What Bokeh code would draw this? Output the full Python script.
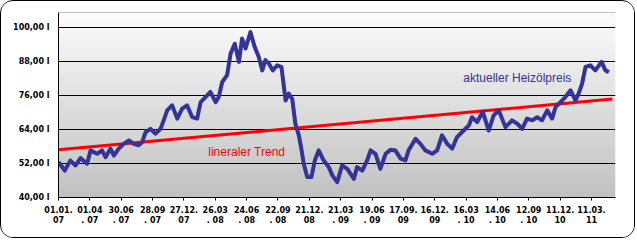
import numpy as np
from bokeh.plotting import figure
from bokeh.models import FixedTicker, Span, Label, Range1d
from bokeh.embed import file_html
from bokeh.resources import INLINE

# ---- data ----
start_date = "2007-01-01"
tick_days = [0, 90, 180, 270, 360, 450, 540, 630, 720, 810, 900, 990, 1080,
             1170, 1260, 1350, 1440, 1530]
tick_labels = ["01.01.\n07", "01.04\n. 07", "30.06\n. 07", "28.09\n. 07", "27.12.\n07",
               "26.03\n. 08", "24.06\n. 08", "22.09\n. 08", "21.12.\n08", "21.03\n. 09",
               "19.06\n. 09", "17.09.\n09", "16.12.\n09", "16.03\n. 10", "14.06\n. 10",
               "12.09\n. 10", "11.12.\n10", "11.03.\n11"]
y_ticks = [40, 52, 64, 76, 88, 100]
y_labels = ["40,00 l", "52,00 l", "64,00 l", "76,00 l", "88,00 l", "100,00 l"]

price_day = [0, 18, 34, 49, 63, 82, 92, 111, 125, 135, 149, 159, 173, 187, 202, 216, 230, 240,
             250, 264, 278, 293, 302, 312, 326, 341, 355, 369, 384, 398, 408, 422, 436, 451,
             460, 470, 484, 494, 506, 518, 527, 537, 551, 563, 575, 585, 594, 604, 615, 628,
             640, 652, 661, 671, 680, 690, 697, 704, 714, 726, 736, 747, 761, 776, 786, 800,
             814, 829, 848, 857, 872, 886, 896, 910, 924, 939, 953, 967, 982, 996, 1005, 1025,
             1039, 1053, 1073, 1087, 1101, 1116, 1130, 1144, 1163, 1178, 1187, 1202, 1218,
             1235, 1249, 1264, 1283, 1302, 1317, 1331, 1345, 1360, 1374, 1388, 1403, 1417,
             1427, 1441, 1455, 1470, 1484, 1493, 1503, 1513, 1527, 1541, 1559, 1570, 1580]
price_value = [52.5, 49.5, 53.0, 51.3, 53.9, 51.9, 56.6, 55.4, 56.6, 54.2, 57.2, 54.8, 57.2,
               58.9, 60.1, 58.9, 58.4, 59.5, 63.0, 64.2, 62.5, 64.2, 67.2, 70.7, 72.5, 67.8,
               71.3, 72.5, 68.3, 67.8, 73.6, 75.4, 77.2, 73.6, 75.4, 80.7, 83.1, 90.7, 94.2,
               87.8, 96.0, 92.5, 98.3, 93.1, 89.5, 84.8, 88.4, 87.2, 84.8, 86.6, 86.0, 74.2,
               76.6, 74.8, 66.0, 61.9, 57.2, 51.9, 47.2, 47.2, 53.1, 56.6, 53.1, 50.7, 47.8,
               45.4, 51.3, 50.1, 46.6, 50.7, 49.5, 53.1, 56.6, 55.4, 50.1, 55.4, 56.8, 56.6,
               53.7, 53.1, 56.6, 60.7, 58.9, 56.6, 55.4, 56.6, 61.9, 58.9, 57.2, 61.3, 63.6,
               65.4, 68.3, 66.6, 70.2, 63.6, 68.9, 70.7, 64.8, 67.2, 66.0, 64.2, 67.8, 67.2,
               68.3, 67.2, 70.7, 67.8, 71.9, 73.6, 75.4, 77.8, 74.2, 76.6, 80.1, 86.0, 86.6,
               84.8, 87.8, 84.8, 84.2]
trend_day = [0, 1590]
trend_value = [56.8, 74.7]

x_min, x_max = 0, 1599
y_min, y_max = 40, 105.2

# ---- figure ----
p = figure(width=635, height=238, output_backend="svg", toolbar_location=None,
           x_range=Range1d(x_min, x_max), y_range=Range1d(y_min, y_max),
           min_border_left=57, min_border_right=21, min_border_top=11, min_border_bottom=42,
           background_fill_color="#ffffff", border_fill_color="#ffffff",
           styles={"border": "1px solid #000", "border-radius": "13px", "overflow": "hidden"})
p.outline_line_color = None

# gradient background of plot area
n = 64
g = np.linspace(194, 252, n).astype(np.uint32)
img = np.empty((n, 1), dtype=np.uint32)
view = img.view(dtype=np.uint8).reshape((n, 1, 4))
view[:, 0, 0] = g
view[:, 0, 1] = g
view[:, 0, 2] = g
view[:, 0, 3] = 255
p.image_rgba(image=[img], x=x_min, y=y_min, dw=x_max - x_min, dh=y_max - y_min, level="image")

p.add_layout(Span(location=y_max, dimension="width", line_color="#808080", line_width=1))

p.line(trend_day, trend_value, line_color="#ff0000", line_width=3)
p.line(price_day, price_value, line_color="#333399", line_width=4, line_join="round")

# axes
p.xgrid.visible = False
p.ygrid.grid_line_color = "#000000"
p.ygrid.grid_line_width = 1
p.ygrid.ticker = FixedTicker(ticks=y_ticks)

p.xaxis.ticker = FixedTicker(ticks=tick_days)
p.xaxis.major_label_overrides = {d: l for d, l in zip(tick_days, tick_labels)}
p.yaxis.ticker = FixedTicker(ticks=y_ticks)
p.yaxis.major_label_overrides = {t: l for t, l in zip(y_ticks, y_labels)}

for ax in (p.xaxis[0], p.yaxis[0]):
    ax.axis_line_color = "#000000"
    ax.axis_line_width = 1
    ax.major_tick_line_color = "#000000"
    ax.minor_tick_line_color = None
    ax.major_label_text_font = "DejaVu Sans"
    ax.major_label_text_font_style = "bold"
    ax.major_label_text_font_size = "8px"
    ax.major_label_text_color = "#000000"

p.xaxis.major_tick_out = 3
p.xaxis.major_tick_in = 0
p.xaxis.major_label_standoff = 5
p.yaxis.major_tick_out = 0
p.yaxis.major_tick_in = 0
p.yaxis.major_label_standoff = 9

p.add_layout(Label(x=430, y=55.9, text="lineraler Trend", text_color="#ff0000",
                   text_font="Liberation Sans", text_font_size="12px", text_baseline="middle"))
p.add_layout(Label(x=1162, y=82.1, text="aktueller Heizölpreis", text_color="#333399",
                   text_font="Liberation Sans", text_font_size="12px", text_baseline="middle"))

open("out.html", "w").write(file_html(p, INLINE))
